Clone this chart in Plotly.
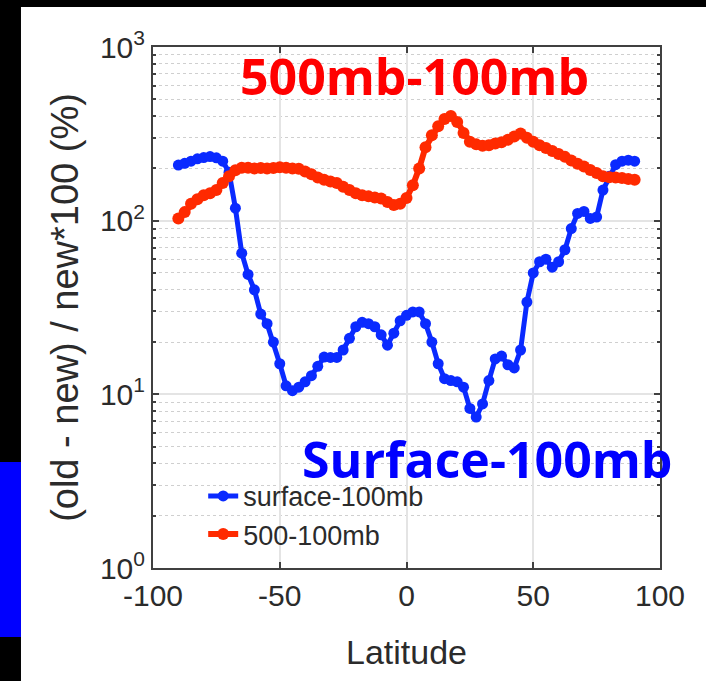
import plotly.graph_objects as go

latitude = [-90, -87.5, -85, -82.5, -80, -77.5, -75, -72.5, -70, -67.5, -65, -62.5, -60,
            -57.5, -55, -52.5, -50, -47.5, -45, -42.5, -40, -37.5, -35, -32.5, -30,
            -27.5, -25, -22.5, -20, -17.5, -15, -12.5, -10, -7.5, -5, -2.5, 0,
            2.5, 5, 7.5, 10, 12.5, 15, 17.5, 20, 22.5, 25, 27.5, 30,
            32.5, 35, 37.5, 40, 42.5, 45, 47.5, 50, 52.5, 55, 57.5, 60,
            62.5, 65, 67.5, 70, 72.5, 75, 77.5, 80, 82.5, 85, 87.5, 90]

surface_100mb = [209, 214, 220, 227, 231, 234, 230, 220, 190, 118, 65, 49, 40,
                 29, 25.5, 20, 15, 11.2, 10.5, 11, 11.8, 12.8, 14.5, 16.4, 16.3,
                 16.3, 18, 21, 24.5, 26, 25.5, 24.5, 22, 19.2, 22.5, 26.5, 28.5,
                 29.8, 29.8, 25.5, 20, 15, 12.3, 12, 11.8, 11, 8.3, 7.4, 8.8,
                 12, 16, 16.6, 14.8, 14.2, 18, 34, 50, 58, 60, 54, 58,
                 68, 90, 110, 113, 103, 105, 150, 180, 210, 220, 223, 220]

mb500_100mb = [103, 112, 125, 133, 140, 144, 150, 165, 180, 195, 202, 202, 200,
               201, 200, 201, 203, 202, 200, 199, 192, 185, 177, 172, 168,
               165, 157, 150, 144, 140, 138, 136, 134, 128, 123, 125, 135,
               160, 200, 265, 310, 350, 385, 400, 370, 320, 285, 275, 270,
               272, 278, 283, 292, 305, 318, 300, 285, 272, 262, 252, 242,
               233, 222, 213, 205, 196, 188, 180, 178, 177, 176, 174, 172]

series_names = ["surface-100mb", "500-100mb"]
y_tickvals = [1, 10, 100, 1000]
y_ticktext = ["10<sup>0</sup>", "10<sup>1</sup>", "10<sup>2</sup>", "10<sup>3</sup>"]
x_tickvals = [-100, -50, 0, 50, 100]
x_ticktext = ["-100", "-50", "0", "50", "100"]

FONT = "Liberation Sans, Arial, sans-serif"
TXT = "#2b2b2b"

fig = go.Figure()
fig.add_trace(go.Scatter(x=latitude, y=surface_100mb, name=series_names[0],
                         mode="lines+markers",
                         line=dict(color="#0a2aff", width=5),
                         marker=dict(color="#0a2aff", size=11)))
fig.add_trace(go.Scatter(x=latitude, y=mb500_100mb, name=series_names[1],
                         mode="lines+markers",
                         line=dict(color="#ff2a00", width=6),
                         marker=dict(color="#ff2a00", size=12)))

fig.update_xaxes(range=[-100, 100], tickvals=x_tickvals, ticktext=x_ticktext,
                 ticks="inside", ticklen=6, tickwidth=1.5, tickcolor="#404040",
                 showline=True, linecolor="#404040", linewidth=2, mirror="ticks",
                 showgrid=True, gridcolor="#e4e4e4", gridwidth=1.5, zeroline=False,
                 tickfont=dict(family=FONT, size=30, color=TXT),
                 title=dict(text="Latitude", font=dict(family=FONT, size=34, color=TXT), standoff=29))

fig.update_yaxes(type="log", range=[0, 3], tickvals=y_tickvals, ticktext=y_ticktext,
                 ticks="inside", ticklen=6, tickwidth=1.5, tickcolor="#404040",
                 showline=True, linecolor="#404040", linewidth=2, mirror="ticks",
                 showgrid=True, gridcolor="#e4e4e4", gridwidth=1.5, zeroline=False,
                 minor=dict(dtick="D1", ticks="inside", ticklen=3, tickcolor="#404040",
                            showgrid=True, gridcolor="#cfcfcf", griddash="dot", gridwidth=1.2),
                 tickfont=dict(family=FONT, size=30, color=TXT),
                 title=dict(text="(old - new) / new*100 (%)",
                            font=dict(family=FONT, size=38, color=TXT), standoff=10))

fig.update_layout(
    width=706, height=681,
    margin=dict(l=153, r=46, t=47, b=113),
    paper_bgcolor="white", plot_bgcolor="white",
    showlegend=True,
    legend=dict(x=0.099, y=0.101, xanchor="left", yanchor="middle",
                bgcolor="rgba(255,255,255,0)", borderwidth=0,
                font=dict(family=FONT, size=27, color=TXT), tracegroupgap=0),
    annotations=[
        dict(text="<b>500mb-100mb</b>", xref="paper", yref="paper", x=0.515, y=0.944,
             xanchor="center", yanchor="middle", showarrow=False,
             font=dict(family="Open Sans, sans-serif", size=50, color="#ff0000")),
        dict(text="<b>Surface-100mb</b>", xref="paper", yref="paper", x=0.659, y=0.21,
             xanchor="center", yanchor="middle", showarrow=False,
             font=dict(family="Open Sans, sans-serif", size=50, color="#0000ff")),
    ],
    shapes=[
        dict(type="rect", xref="paper", yref="paper", x0=-0.31, x1=1.10, y0=1.0768, y1=1.10,
             fillcolor="black", line=dict(width=0), layer="above"),
        dict(type="rect", xref="paper", yref="paper", x0=-0.31, x1=-0.2604, y0=-0.23, y1=1.10,
             fillcolor="black", line=dict(width=0), layer="above"),
        dict(type="rect", xref="paper", yref="paper", x0=-0.31, x1=-0.2604, y0=-0.1324, y1=0.2035,
             fillcolor="#0000ff", line=dict(width=0), layer="above"),
    ],
)

fig.write_html("out.html")
